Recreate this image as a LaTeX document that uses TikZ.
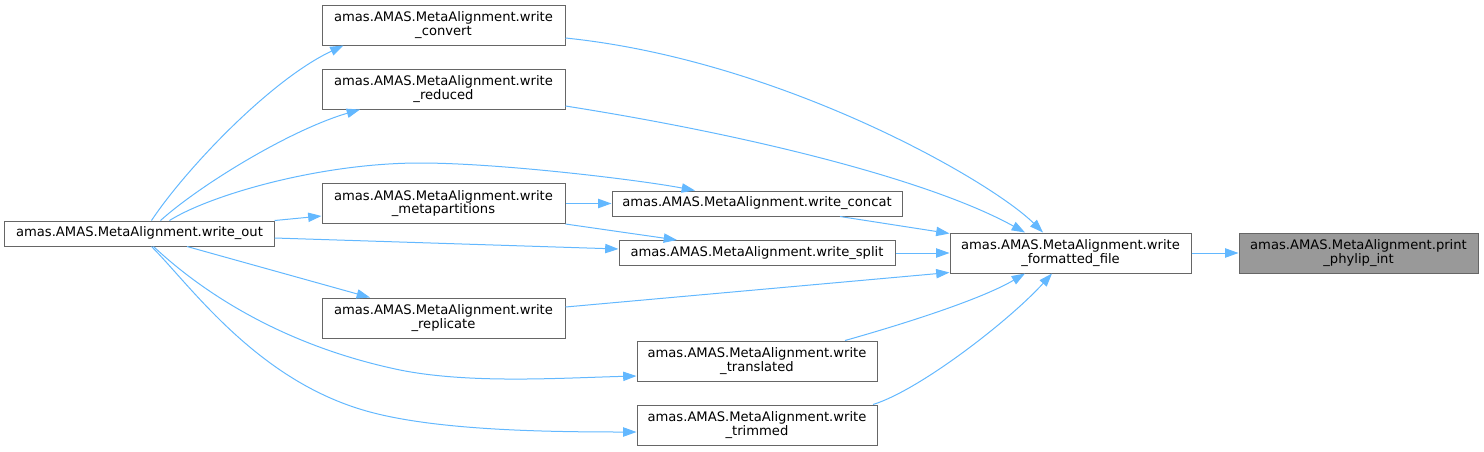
\documentclass[tikz,border=0pt]{standalone}
\usepackage{fontspec}
\setmainfont{DejaVu Sans}
\usetikzlibrary{arrows.meta,calc}
\definecolor{edgeblue}{HTML}{63B8FF}
\definecolor{boxgrey}{HTML}{666666}
\definecolor{fillgrey}{HTML}{999999}
\begin{document}
\begin{tikzpicture}[x=0.75pt,y=-0.75pt,
  fn/.style={draw=boxgrey,line width=0.75pt,fill=white,inner sep=0pt,align=center,
    font=\fontsize{9.85}{10}\selectfont,text=black},
  hl/.style={fn,fill=fillgrey},
  ed/.style={draw=edgeblue,line width=0.75pt,-{Triangle[length=10pt,width=7pt]}}]
\useasboundingbox (0,0) rectangle (1484,451);
% nodes
\node[fn,minimum width=202pt,minimum height=18.75pt] (out) at (139.5,233.5) {amas.AMAS.MetaAlignment.write\_out};
\node[fn,minimum width=182.25pt,minimum height=30pt] (conv) at (443.5,25) {amas.AMAS.MetaAlignment.write\\\_convert};
\node[fn,minimum width=182.25pt,minimum height=30pt] (red) at (443.5,89) {amas.AMAS.MetaAlignment.write\\\_reduced};
\node[fn,minimum width=182.25pt,minimum height=30pt] (meta) at (443.5,203.5) {amas.AMAS.MetaAlignment.write\\\_metapartitions};
\node[fn,minimum width=182.25pt,minimum height=30pt] (rep) at (443.5,318) {amas.AMAS.MetaAlignment.write\\\_replicate};
\node[fn,minimum width=217.5pt,minimum height=18.75pt] (concat) at (757,203.5) {amas.AMAS.MetaAlignment.write\_concat};
\node[fn,minimum width=207pt,minimum height=18.75pt] (split) at (757,253) {amas.AMAS.MetaAlignment.write\_split};
\node[fn,minimum width=180pt,minimum height=30pt] (trans) at (757,361) {amas.AMAS.MetaAlignment.write\\\_translated};
\node[fn,minimum width=180pt,minimum height=30pt] (trim) at (757,425) {amas.AMAS.MetaAlignment.write\\\_trimmed};
\node[fn,minimum width=180.75pt,minimum height=30pt] (fmt) at (1070.5,253) {amas.AMAS.MetaAlignment.write\\\_formatted\_file};
\node[hl,minimum width=179.25pt,minimum height=30pt] (print) at (1358.5,253) {amas.AMAS.MetaAlignment.print\\\_phylip\_int};
% edges from write_out
\draw[ed] ($(out.north)+(12,0)$) .. controls (185,170) and (270,80) .. ($(conv.south)+(-100,0)$);
\draw[ed] ($(out.north)+(21,0)$) .. controls (200,185) and (290,130) .. ($(red.south)+(-83.5,0)$);
\draw[ed] ($(out.north)+(30,0)$) .. controls (210,195) and (320,163) .. (420,163)
   .. controls (500,163) and (640,180) .. ($(concat.north)+(-62,0)$);
\draw[ed] (out.north east) -- ($(meta.west)+(0,12.5)$);
\draw[ed] ($(out.east)+(0,4.5)$) -- ($(split.west)+(0,-4)$);
\draw[ed] ($(out.south)+(47.5,0)$) -- ($(rep.north)+(-73.5,0)$);
\draw[ed] ($(out.south)+(14,0)$) .. controls (200,290) and (280,345) .. (400,370)
   .. controls (470,384) and (560,378) .. ($(trans.west)+(0,15)$);
\draw[ed] ($(out.south)+(12,0)$) .. controls (190,285) and (255,378) .. (363,410)
   .. controls (430,430) and (540,432) .. ($(trim.west)+(0,7)$);
% meta
\draw[ed] (meta.east) -- (concat.west);
\draw[ed] (meta.south east) -- ($(split.north)+(-80,0)$);
% into write_formatted_file
\draw[ed] ($(conv.east)+(0,13)$) .. controls (780,60) and (990,180) .. ($(fmt.north)+(-27.5,0)$);
\draw[ed] ($(red.east)+(0,17)$) .. controls (750,135) and (930,180) .. ($(fmt.north)+(-45.5,0)$);
\draw[ed] ($(concat.south)+(83,0)$) -- ($(fmt.north west)+(0,1)$);
\draw[ed] (split.east) -- (fmt.west);
\draw[ed] ($(rep.east)+(0,-11)$) -- ($(fmt.south west)+(0,-1)$);
\draw[ed] ($(trans.north)+(88,0)$) .. controls (900,325) and (980,300) .. ($(fmt.south)+(-45.5,0)$);
\draw[ed] ($(trim.north)+(116,0)$) .. controls (920,390) and (1010,320) .. ($(fmt.south)+(-18.5,0)$);
\draw[ed] (fmt.east) -- (print.west);
\end{tikzpicture}
\end{document}
